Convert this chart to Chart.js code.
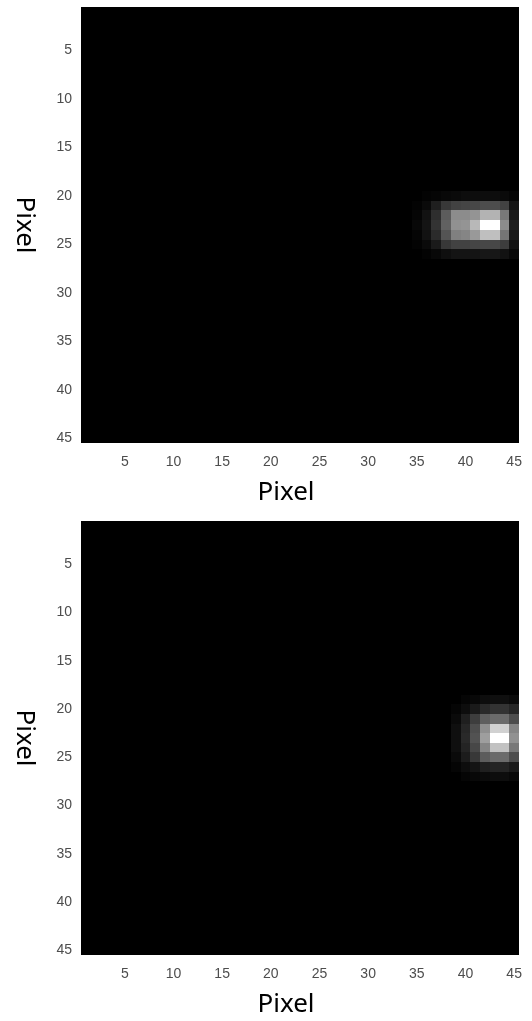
<!DOCTYPE html>
<html>
<head>
<meta charset="utf-8">
<script src="https://cdn.jsdelivr.net/npm/chart.js@4.4.1/dist/chart.umd.min.js"></script>
<style>
  html, body { margin: 0; padding: 0; background: #fff; }
  .panel { position: relative; width: 532px; }
  #topWrap { height: 514px; }
  #bottomWrap { height: 507px; }
</style>
</head>
<body>
<div class="panel" id="topWrap"><canvas id="topChart"></canvas></div>
<div class="panel" id="bottomWrap"><canvas id="bottomChart"></canvas></div>
<script>
// image size (pixels per side) and tick labels
const gridSize = 45;
const tickValues = [5, 10, 15, 20, 25, 30, 35, 40, 45];
const axisLabel = 'Pixel';

// top image: bright spot, intensity 0..1 (everything else is 0)
const topRows = [20, 21, 22, 23, 24, 25, 26];
const topCols = [35, 36, 37, 38, 39, 40, 41, 42, 43, 44, 45];
const topPatch = [
    [0.00, 0.01, 0.02, 0.03, 0.04, 0.05, 0.05, 0.05, 0.05, 0.04, 0.02],
    [0.01, 0.04, 0.12, 0.22, 0.26, 0.27, 0.28, 0.30, 0.30, 0.26, 0.08],
    [0.02, 0.07, 0.18, 0.36, 0.55, 0.55, 0.58, 0.70, 0.70, 0.47, 0.10],
    [0.03, 0.08, 0.20, 0.38, 0.57, 0.58, 0.72, 1.00, 1.00, 0.55, 0.12],
    [0.02, 0.07, 0.17, 0.33, 0.50, 0.52, 0.60, 0.75, 0.75, 0.46, 0.10],
    [0.01, 0.04, 0.10, 0.22, 0.26, 0.26, 0.27, 0.28, 0.28, 0.24, 0.07],
    [0.00, 0.01, 0.03, 0.06, 0.08, 0.08, 0.08, 0.09, 0.09, 0.07, 0.03]
];

// bottom image: bright spot
const bottomRows = [19, 20, 21, 22, 23, 24, 25, 26, 27];
const bottomCols = [39, 40, 41, 42, 43, 44, 45];
const bottomPatch = [
    [0.00, 0.02, 0.03, 0.05, 0.06, 0.06, 0.04],
    [0.02, 0.05, 0.10, 0.16, 0.20, 0.20, 0.15],
    [0.04, 0.12, 0.24, 0.37, 0.42, 0.42, 0.30],
    [0.06, 0.15, 0.30, 0.56, 0.82, 0.82, 0.52],
    [0.06, 0.16, 0.32, 0.62, 1.00, 1.00, 0.57],
    [0.06, 0.14, 0.28, 0.52, 0.76, 0.76, 0.47],
    [0.04, 0.11, 0.22, 0.36, 0.42, 0.42, 0.30],
    [0.02, 0.05, 0.08, 0.12, 0.14, 0.14, 0.10],
    [0.00, 0.02, 0.03, 0.04, 0.05, 0.05, 0.03]
];

// full 45x45 grid of cells, zeros except the patch
function buildCells(rows, cols, patch) {
    const cells = [];
    for (let r = 1; r <= gridSize; r++) {
        for (let c = 1; c <= gridSize; c++) {
            const ri = rows.indexOf(r);
            const ci = cols.indexOf(c);
            const v = (ri >= 0 && ci >= 0) ? patch[ri][ci] : 0;
            cells.push({ x: c, y: r, v: v });
        }
    }
    return cells;
}

const tickFont = { family: '"Liberation Sans", Arial, sans-serif', size: 14 };
const tickColor = '#4d4d4d';

// draws each cell as a gray square using the chart's own scales
const heatmapPlugin = {
    id: 'heatmap',
    beforeDatasetsDraw(chart) {
        const { ctx, chartArea, scales: { x, y } } = chart;
        ctx.save();
        ctx.fillStyle = '#000';
        ctx.fillRect(chartArea.left, chartArea.top, chartArea.width, chartArea.height);
        chart.data.datasets[0].data.forEach(cell => {
            if (cell.v <= 0) return;
            const x0 = Math.round(x.getPixelForValue(cell.x - 0.5));
            const x1 = Math.round(x.getPixelForValue(cell.x + 0.5));
            const y0 = Math.round(y.getPixelForValue(cell.y - 0.5));
            const y1 = Math.round(y.getPixelForValue(cell.y + 0.5));
            const g = Math.round(Math.min(1, cell.v) * 255);
            ctx.fillStyle = `rgb(${g},${g},${g})`;
            ctx.fillRect(x0, Math.min(y0, y1), x1 - x0, Math.abs(y1 - y0));
        });
        ctx.restore();
    }
};

// axis titles: x centered under the image, y rotated clockwise
const titlesPlugin = {
    id: 'titles',
    afterDraw(chart) {
        const { ctx, chartArea } = chart;
        const o = chart.options.plugins.titles;
        ctx.save();
        ctx.fillStyle = '#000';
        ctx.font = '400 26px "Noto Sans", "Open Sans", sans-serif';
        ctx.textAlign = 'center';
        ctx.textBaseline = 'middle';
        ctx.fillText(axisLabel, o.xCenter, chartArea.bottom + o.xOffset);
        ctx.translate(o.yCenter, (chartArea.top + chartArea.bottom) / 2);
        ctx.rotate(Math.PI / 2);
        ctx.fillText(axisLabel, 0, 0);
        ctx.restore();
    }
};

function makeChart(id, cells, canvasHeight, plotBottom) {
    return new Chart(document.getElementById(id), {
        type: 'scatter',
        data: { datasets: [{ data: cells, pointRadius: 0, pointHoverRadius: 0 }] },
        options: {
            responsive: true,
            maintainAspectRatio: false,
            animation: false,
            events: [],
            layout: { padding: { top: 7, right: 13, left: 0, bottom: 0 } },
            plugins: {
                legend: { display: false },
                tooltip: { enabled: false },
                titles: { xCenter: 286, xOffset: 50, yCenter: 24 }
            },
            scales: {
                x: {
                    type: 'linear',
                    min: 0.5,
                    max: gridSize + 0.5,
                    afterBuildTicks: s => { s.ticks = tickValues.map(v => ({ value: v })); },
                    afterFit: s => {
                        s.height = canvasHeight - plotBottom;
                        s.paddingLeft = 0;
                        s.paddingRight = 0;
                    },
                    grid: { display: false, drawTicks: false },
                    border: { display: false },
                    ticks: { font: tickFont, color: tickColor, padding: 11, maxRotation: 0 }
                },
                y: {
                    type: 'linear',
                    reverse: true,
                    min: 0.5,
                    max: gridSize + 0.5,
                    afterBuildTicks: s => { s.ticks = tickValues.map(v => ({ value: v })); },
                    afterFit: s => {
                        s.width = 81;
                        s.paddingTop = 0;
                        s.paddingBottom = 0;
                    },
                    grid: { display: false, drawTicks: false },
                    border: { display: false },
                    ticks: { font: tickFont, color: tickColor, padding: 9 }
                }
            }
        },
        plugins: [heatmapPlugin, titlesPlugin]
    });
}

makeChart('topChart', buildCells(topRows, topCols, topPatch), 514, 443);
makeChart('bottomChart', buildCells(bottomRows, bottomCols, bottomPatch), 507, 441);
</script>
</body>
</html>
